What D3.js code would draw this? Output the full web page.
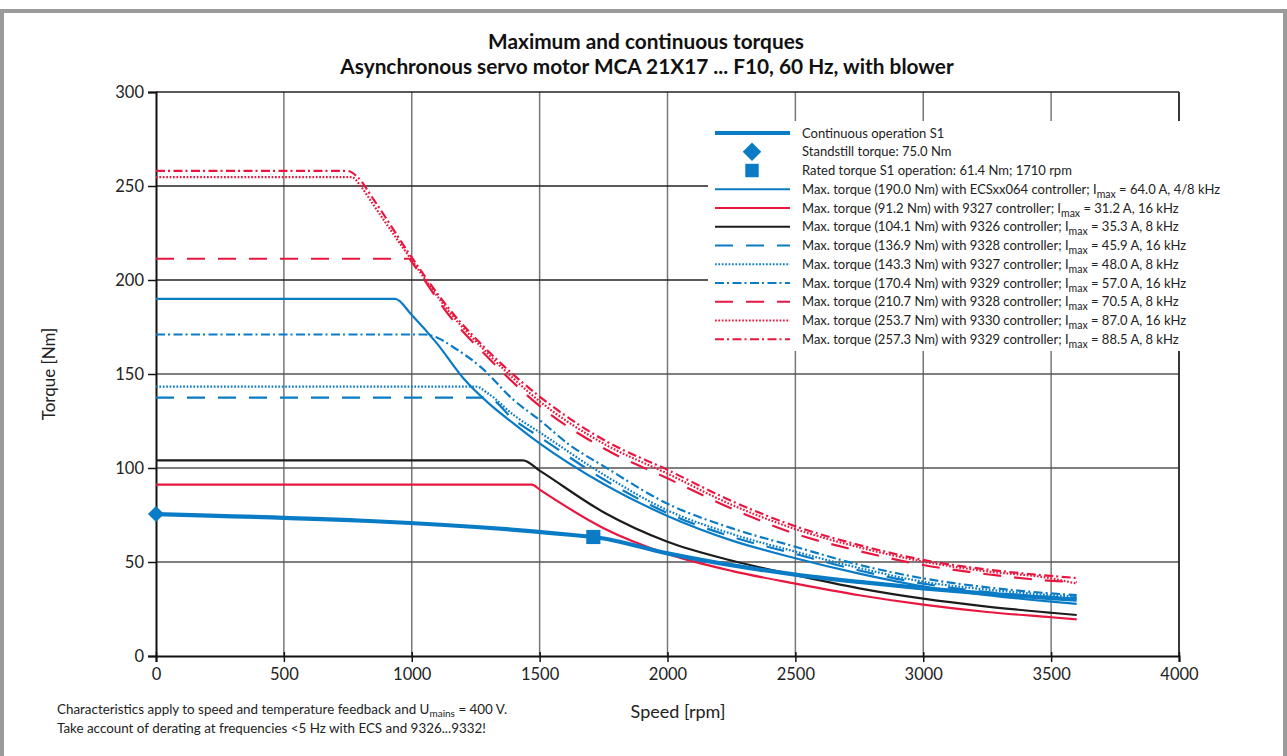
<!DOCTYPE html>
<html>
<head>
<meta charset="utf-8">
<script src="https://cdn.jsdelivr.net/npm/d3@7"></script>
<style>
  body { margin: 0; background: #fff; }
  svg { display: block; font-family: Lato, "Open Sans", sans-serif; }
</style>
</head>
<body>
<div id="chart"></div>
<script>
'use strict';

// tick labels
const speedTicks = [0, 500, 1000, 1500, 2000, 2500, 3000, 3500, 4000];
const torqueTicks = [0, 50, 100, 150, 200, 250, 300];

// continuous operation S1
const speedS1 = [0, 1710, 2000, 2250, 2500, 2750, 3000, 3250, 3500, 3600];
const torqueS1 = [75.5, 63.3, 54.6, 48.3, 43.3, 39.4, 36.0, 33.2, 30.8, 30.0];
const standstill = [0, 75.5];
const rated = [1710, 63.3];

// max torque curves
const speedEcs = [0, 935, 1000, 1100, 1200, 1300, 1400, 1500, 1750, 2000, 2250, 2500, 2750, 3000, 3250, 3500, 3600];
const torqueEcs = [190, 190, 181.4, 166, 148, 134.5, 123.5, 113.1, 91.5, 74.5, 61.5, 52, 43.8, 37, 32.4, 28.9, 27.7];

const speed9327a = [0, 1470, 1500, 1750, 2000, 2250, 2500, 2750, 3000, 3250, 3500, 3600];
const torque9327a = [91.2, 91.2, 88.5, 68, 54.3, 45.3, 38.5, 32.3, 27.3, 23.4, 20.6, 19.5];

const speed9326 = [0, 1435, 1500, 1750, 2000, 2250, 2500, 2750, 3000, 3250, 3500, 3600];
const torque9326 = [104.1, 104.1, 98.6, 76.5, 60.8, 50.8, 43, 36, 30.5, 26.3, 23, 21.8];

const speed9328a = [0, 1295, 1400, 1500, 1750, 2000, 2250, 2500, 2750, 3000, 3250, 3500, 3600];
const torque9328a = [137.4, 137.4, 125.5, 116.5, 94, 76, 63.5, 54.3, 45.5, 38.5, 34, 31.5, 31.2];

const speed9327b = [0, 1250, 1300, 1400, 1500, 1750, 2000, 2250, 2500, 2750, 3000, 3250, 3500, 3600];
const torque9327b = [143.3, 143.3, 139.5, 128, 119, 96.5, 77.5, 65, 55.5, 46.8, 39.5, 35.3, 32.4, 31.5];

const speed9329a = [0, 1050, 1100, 1160, 1270, 1400, 1500, 1620, 1750, 2000, 2250, 2500, 2750, 3000, 3250, 3500, 3600];
const torque9329a = [171, 171, 169.3, 164.5, 153.7, 136, 125.5, 112, 101, 81, 68, 58.1, 48.5, 41.3, 36.5, 33.3, 32.4];

const speed9328b = [0, 990, 1000, 1150, 1300, 1500, 1750, 2000, 2250, 2500, 2750, 3000, 3250, 3500, 3600];
const torque9328b = [211.3, 211.3, 209.5, 180.5, 158.5, 133, 110.5, 94.5, 78.5, 65, 55.8, 48.4, 43.5, 40, 39.3];

const speed9330 = [0, 765, 800, 850, 1000, 1150, 1300, 1500, 1750, 2000, 2250, 2500, 2750, 3000, 3250, 3500, 3600];
const torque9330 = [254.7, 254.7, 250, 240, 210.5, 182.5, 160.5, 135.5, 113, 97, 80.5, 67.5, 57.8, 50.2, 45, 41.3, 38.5];

const speed9329b = [0, 750, 790, 850, 1000, 1150, 1300, 1500, 1750, 2000, 2250, 2500, 2750, 3000, 3250, 3500, 3600];
const torque9329b = [258, 258, 254.5, 243, 212, 184, 162, 138, 115, 99, 82.5, 69, 59, 51.1, 46, 42.6, 41.5];

const legendLabels = [
    "Continuous operation S1",
    "Standstill torque: 75.0 Nm",
    "Rated torque S1 operation: 61.4 Nm; 1710 rpm",
    "Max. torque (190.0 Nm) with ECSxx064 controller; I|max| = 64.0 A, 4/8 kHz",
    "Max. torque (91.2 Nm) with 9327 controller; I|max| = 31.2 A, 16 kHz",
    "Max. torque (104.1 Nm) with 9326 controller; I|max| = 35.3 A, 8 kHz",
    "Max. torque (136.9 Nm) with 9328 controller; I|max| = 45.9 A, 16 kHz",
    "Max. torque (143.3 Nm) with 9327 controller; I|max| = 48.0 A, 8 kHz",
    "Max. torque (170.4 Nm) with 9329 controller; I|max| = 57.0 A, 16 kHz",
    "Max. torque (210.7 Nm) with 9328 controller; I|max| = 70.5 A, 8 kHz",
    "Max. torque (253.7 Nm) with 9330 controller; I|max| = 87.0 A, 16 kHz",
    "Max. torque (257.3 Nm) with 9329 controller; I|max| = 88.5 A, 8 kHz"
];

const BLUE = '#0a7bc5', RED = '#e8173f', BLACK = '#1c1c1c';
const DASH = '18,13', DOT = '1.7,1.7', DASHDOT = '9,3,2,3.5';

// legend order = draw styles, index 0..2 are S1 line + markers
const maxCurves = [
    { sp: speedEcs,   tq: torqueEcs,   color: BLUE,  dash: null },
    { sp: speed9327a, tq: torque9327a, color: RED,   dash: null },
    { sp: speed9326,  tq: torque9326,  color: BLACK, dash: null },
    { sp: speed9328a, tq: torque9328a, color: BLUE,  dash: DASH },
    { sp: speed9327b, tq: torque9327b, color: BLUE,  dash: DOT },
    { sp: speed9329a, tq: torque9329a, color: BLUE,  dash: DASHDOT },
    { sp: speed9328b, tq: torque9328b, color: RED,   dash: DASH },
    { sp: speed9330,  tq: torque9330,  color: RED,   dash: DOT },
    { sp: speed9329b, tq: torque9329b, color: RED,   dash: DASHDOT }
];

const W = 1287, H = 756;
const svg = d3.select('#chart').append('svg').attr('width', W).attr('height', H);

// outer frame
svg.append('rect').attr('x', 2).attr('y', 11).attr('width', W - 4).attr('height', H + 20)
    .attr('fill', 'none').attr('stroke', '#9a9a9a').attr('stroke-width', 4);

const x = d3.scaleLinear().domain([0, 4000]).range([156, 1179]);
const y = d3.scaleLinear().domain([0, 300]).range([656, 92]);

// title
svg.append('text').attr('x', 646).attr('y', 49).attr('text-anchor', 'middle')
    .style('font-size', '20.8px').style('font-weight', 'bold').attr('fill', '#111')
    .text('Maximum and continuous torques');
svg.append('text').attr('x', 647).attr('y', 74).attr('text-anchor', 'middle')
    .style('font-size', '20.8px').style('font-weight', 'bold').attr('fill', '#111')
    .text('Asynchronous servo motor MCA 21X17 ... F10, 60 Hz, with blower');

// grid
svg.append('g').selectAll('line').data(speedTicks.slice(1, -1)).enter().append('line')
    .attr('x1', d => x(d)).attr('x2', d => x(d)).attr('y1', y(300)).attr('y2', y(0))
    .attr('stroke', '#777').attr('stroke-width', 1.5);
svg.append('g').selectAll('line').data(torqueTicks.slice(1)).enter().append('line')
    .attr('x1', x(0)).attr('x2', x(4000)).attr('y1', d => y(d)).attr('y2', d => y(d))
    .attr('stroke', d => d >= 200 ? '#222' : '#555').attr('stroke-width', 1.5);
svg.append('line').attr('x1', x(4000)).attr('x2', x(4000)).attr('y1', y(300)).attr('y2', y(0))
    .attr('stroke', '#222').attr('stroke-width', 1.8);

// axes
const yAxis = svg.append('g').attr('transform', `translate(${x(0)},0)`)
    .call(d3.axisLeft(y).tickValues(torqueTicks).tickFormat(d3.format('d')).tickSize(8).tickPadding(4));
const xAxis = svg.append('g').attr('transform', `translate(0,${y(0)})`)
    .call(d3.axisBottom(x).tickValues(speedTicks).tickFormat(d3.format('d')).tickSize(6).tickPadding(6));
[yAxis, xAxis].forEach(a => {
    a.select('.domain').attr('stroke', '#111').attr('stroke-width', 2);
    a.selectAll('.tick line').attr('stroke', '#111').attr('stroke-width', 1.5);
    a.selectAll('.tick text').style('font-size', '16.5px').style('font-family', 'Lato, sans-serif').attr('fill', '#222');
});
xAxis.selectAll('.tick line').attr('y1', -4);

svg.append('text').attr('transform', `translate(55,374) rotate(-90)`).attr('text-anchor', 'middle')
    .style('font-size', '17px').attr('fill', '#222').text('Torque [Nm]');
svg.append('text').attr('x', 678).attr('y', 718).attr('text-anchor', 'middle')
    .style('font-size', '18px').attr('fill', '#222').text('Speed [rpm]');

// curves
const line = d3.line().x(d => x(d[0])).y(d => y(d[1])).curve(d3.curveMonotoneX);
const plot = svg.append('g');
maxCurves.forEach(c => {
    plot.append('path').datum(d3.zip(c.sp, c.tq)).attr('d', line)
        .attr('fill', 'none').attr('stroke', c.color).attr('stroke-width', 2.2)
        .attr('stroke-dasharray', c.dash);
});
plot.append('path').datum(d3.zip(speedS1, torqueS1)).attr('d', line)
    .attr('fill', 'none').attr('stroke', BLUE).attr('stroke-width', 4.2);

const diamond = d3.symbol().type(d3.symbolSquare).size(130);
const square = d3.symbol().type(d3.symbolSquare).size(200);
plot.append('path').attr('d', diamond).attr('fill', BLUE)
    .attr('transform', `translate(${x(standstill[0])},${y(standstill[1])}) rotate(45)`);
plot.append('path').attr('d', square).attr('fill', BLUE)
    .attr('transform', `translate(${x(rated[0])},${y(rated[1])})`);

// legend
const lg = svg.append('g');
lg.append('rect').attr('x', 708).attr('y', 121).attr('width', 528).attr('height', 230).attr('fill', '#fff');
const rowY = i => 133 + i * 18.75;
lg.append('line').attr('x1', 715).attr('x2', 790).attr('y1', rowY(0)).attr('y2', rowY(0))
    .attr('stroke', BLUE).attr('stroke-width', 4.2);
lg.append('path').attr('d', d3.symbol().type(d3.symbolSquare).size(170)).attr('fill', BLUE)
    .attr('transform', `translate(752,${rowY(1)}) rotate(45)`);
lg.append('path').attr('d', d3.symbol().type(d3.symbolSquare).size(180)).attr('fill', BLUE)
    .attr('transform', `translate(752,${rowY(2)})`);
maxCurves.forEach((c, i) => {
    lg.append('line').attr('x1', 715).attr('x2', 790).attr('y1', rowY(i + 3)).attr('y2', rowY(i + 3))
        .attr('stroke', c.color).attr('stroke-width', 2.2).attr('stroke-dasharray', c.dash);
});
legendLabels.forEach((lab, i) => {
    const parts = lab.split('|');
    const t = lg.append('text').attr('x', 802).attr('y', rowY(i) + 4.5)
        .style('font-size', '13px').attr('fill', '#222');
    t.append('tspan').text(parts[0]);
    if (parts.length > 1) {
        t.append('tspan').attr('dy', 4).style('font-size', '10.5px').text(parts[1]);
        t.append('tspan').attr('dy', -4).text(parts[2]);
    }
});

// footnote
const fn = svg.append('g').style('font-size', '13.4px').attr('fill', '#222');
const f1 = fn.append('text').attr('x', 57).attr('y', 714);
f1.append('tspan').text('Characteristics apply to speed and temperature feedback and U');
f1.append('tspan').attr('dy', 3).style('font-size', '10px').text('mains');
f1.append('tspan').attr('dy', -3).text(' = 400 V.');
fn.append('text').attr('x', 57).attr('y', 733)
    .text('Take account of derating at frequencies <5 Hz with ECS and 9326...9332!');
</script>
</body>
</html>
